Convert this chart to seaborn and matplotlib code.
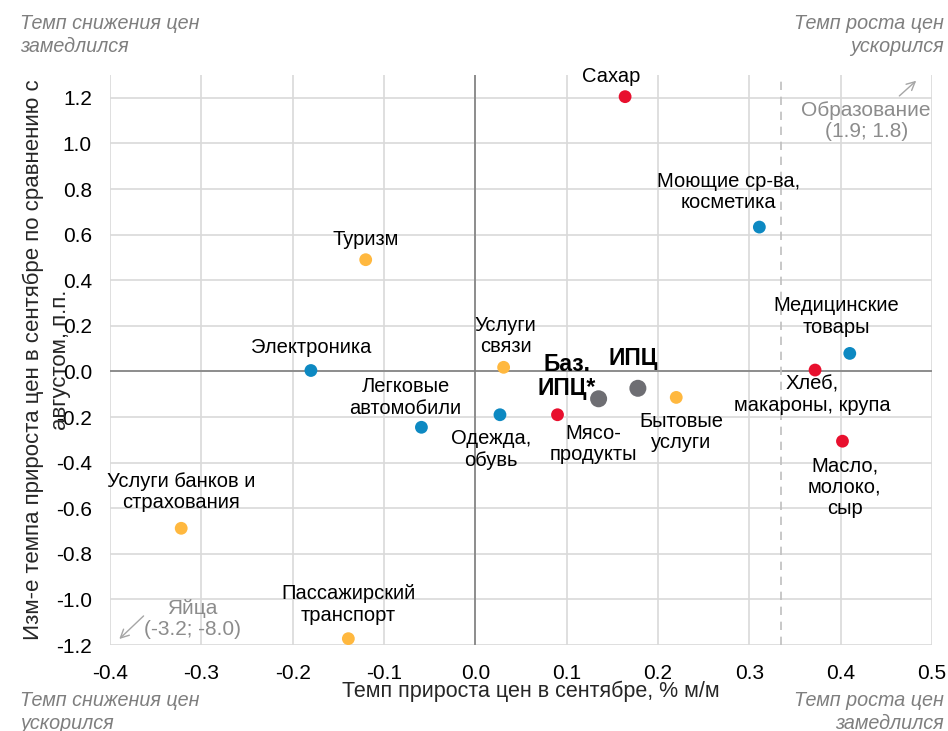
"""
Scatter: price growth in September vs change from August, by category
"""
import numpy as np
import pandas as pd
import seaborn as sns
import matplotlib.pyplot as plt

# data
names = ['Сахар', 'Моющие ср-ва,\nкосметика', 'Туризм', 'Электроника', 'Услуги\nсвязи',
         'Легковые\nавтомобили', 'Одежда,\nобувь', 'Мясо-\nпродукты', 'Бытовые\nуслуги',
         'Медицинские\nтовары', 'Хлеб,\nмакароны, крупа', 'Масло,\nмолоко,\nсыр',
         'Услуги банков и\nстрахования', 'Пассажирский\nтранспорт']
x_vals = [0.164, 0.311, -0.120, -0.180, 0.031, -0.059, 0.027, 0.090, 0.220,
          0.410, 0.372, 0.402, -0.322, -0.139]
y_vals = [1.205, 0.633, 0.490, 0.004, 0.018, -0.245, -0.190, -0.190, -0.114,
          0.079, 0.006, -0.306, -0.688, -1.172]
groups = ['food', 'nonfood', 'services', 'nonfood', 'services',
          'nonfood', 'nonfood', 'food', 'services',
          'nonfood', 'food', 'food', 'services', 'services']

cpi_names = ['Баз.\nИПЦ*', 'ИПЦ']
cpi_x = [0.135, 0.178]
cpi_y = [-0.120, -0.074]

target_line = 0.335
x_ticks = np.arange(-0.4, 0.51, 0.1)
y_ticks = np.arange(-1.2, 1.21, 0.2)

# label offsets in points (layout only)
offsets = [(-10, 14.5), (-22, 25), (0, 14.5), (0, 16.5), (1.5, 22.5), (-11.5, 21.5), (-6.5, -25),
           (26, -21), (3.5, -25), (-10, 26.5), (-2, -18), (1.5, -33), (0, 26), (0, 24.5)]
cpi_offsets = [(-23, 16), (-3.5, 21.5)]

palette = {'food': '#E8102E', 'nonfood': '#0D89C2', 'services': '#FFB83F'}

df = pd.DataFrame({'name': names, 'x': x_vals, 'y': y_vals, 'group': groups})
cpi = pd.DataFrame({'name': cpi_names, 'x': cpi_x, 'y': cpi_y})


def fmt(v):
    return ('%.1f' % v).replace('-0.0', '0.0')


sns.set_theme(style="white")
plt.rcParams['font.family'] = ['Liberation Sans', 'DejaVu Sans']
plt.rcParams['axes.unicode_minus'] = False

fig = plt.figure(figsize=(9.48, 7.31), dpi=100)
ax = fig.add_axes([0.116, 0.1176, 0.8671, 0.7798])

ax.set_xlim(-0.4, 0.5)
ax.set_ylim(-1.2, 1.3)
ax.set_xticks(x_ticks)
ax.set_yticks(y_ticks)
ax.set_xticklabels([fmt(v) for v in x_ticks])
ax.set_yticklabels([fmt(v) for v in y_ticks])
ax.tick_params(axis='x', labelsize=15, pad=14, length=0, colors='black')
ax.tick_params(axis='y', labelsize=15, pad=13, length=0, colors='black')
ax.grid(True, color='#d9d9d9', lw=1.2)
for s in ax.spines.values():
    s.set_visible(False)
ax.axhline(0, color='#7f7f7f', lw=1.2, zorder=1.5)
ax.axvline(0, color='#7f7f7f', lw=1.2, zorder=1.5)
ax.axvline(target_line, color='#bfbfbf', lw=1.2, ls=(0, (5, 4)), zorder=1.5)

sns.scatterplot(data=df, x='x', y='y', hue='group', palette=palette, s=85,
                edgecolor='none', legend=False, ax=ax, zorder=3)
sns.scatterplot(data=cpi, x='x', y='y', color='#6E6E73', s=150,
                edgecolor='none', legend=False, ax=ax, zorder=3)

for (nm, xv, yv), off in zip(df[['name', 'x', 'y']].values, offsets):
    ax.annotate(nm, (xv, yv), xytext=off, textcoords='offset points', ha='center', va='center',
                fontsize=14.5, linespacing=1.15, color='black')
for (nm, xv, yv), off in zip(cpi[['name', 'x', 'y']].values, cpi_offsets):
    ax.annotate(nm, (xv, yv), xytext=off, textcoords='offset points', ha='center', va='center',
                fontsize=16.5, fontweight='bold', linespacing=1.05, color='black')

# off-scale items
ax.annotate('', xy=(0.485, 1.283), xytext=(0.462, 1.200),
            arrowprops=dict(arrowstyle='->', color='#a6a6a6', lw=1, mutation_scale=15), annotation_clip=False)
ax.text(0.428, 1.099, 'Образование\n(1.9; 1.8)', ha='center', va='center', fontsize=15,
        color='#8c8c8c', linespacing=1.1)
ax.annotate('', xy=(-0.392, -1.182), xytext=(-0.361, -1.064),
            arrowprops=dict(arrowstyle='->', color='#a6a6a6', lw=1, mutation_scale=15), annotation_clip=False)
ax.text(-0.310, -1.086, 'Яйца\n(-3.2; -8.0)', ha='center', va='center', fontsize=15,
        color='#8c8c8c', linespacing=1.1)

ax.set_xlabel('Темп прироста цен в сентябре, % м/м', fontsize=15.5, va='center')
ax.xaxis.set_label_coords(0.512, -0.081)
ax.set_ylabel('Изм-е темпа прироста цен в сентябре по сравнению с\nавгустом, п.п.', fontsize=16,
              va='center', linespacing=1.35)
ax.yaxis.set_label_coords(-0.077, 0.5)

corner = dict(fontsize=14.2, style='italic', color='#7f7f7f', va='center', linespacing=1.25)
fig.text(20 / 948, 1 - 35 / 731, 'Темп снижения цен\nзамедлился', ha='left', **corner)
fig.text(944 / 948, 1 - 35 / 731, 'Темп роста цен\nускорился', ha='right', multialignment='right', **corner)
fig.text(20 / 948, 1 - 712 / 731, 'Темп снижения цен\nускорился', ha='left', **corner)
fig.text(944 / 948, 1 - 712 / 731, 'Темп роста цен\nзамедлился', ha='right', multialignment='right', **corner)

fig.savefig('out.png', dpi=100)
